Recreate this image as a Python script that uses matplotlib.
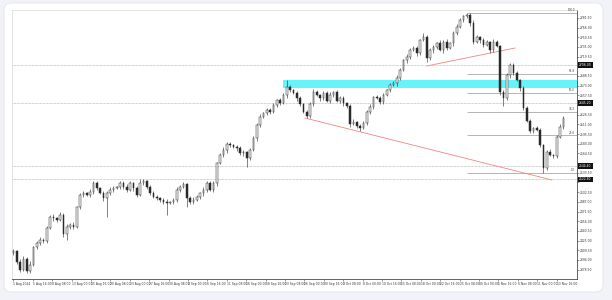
import numpy as np
import matplotlib.pyplot as plt
import matplotlib.transforms as mtransforms
from matplotlib.patches import FancyBboxPatch, Rectangle

W, H = 612, 300

# XAUUSD H4, closes (one entry per drawn candle)
first_open = 2405.0
closes = [
    2408.4, 2390.8, 2378.0, 2395.6, 2376.4, 2386.0, 2414.8, 2421.2, 2426.0, 2424.5,
    2445.2, 2462.8, 2461.2, 2458.0, 2466.0, 2435.6, 2446.8, 2450.0, 2446.8, 2478.8,
    2498.0, 2501.2, 2498.0, 2502.8, 2517.2, 2509.2, 2501.2, 2493.2, 2501.2, 2506.0,
    2509.2, 2510.8, 2517.2, 2510.8, 2506.0, 2517.2, 2509.2, 2498.0, 2517.2, 2520.4,
    2510.8, 2501.2, 2494.8, 2493.2, 2490.0, 2486.8, 2485.2, 2486.8, 2490.0, 2506.0,
    2510.8, 2515.6, 2493.2, 2486.8, 2490.0, 2494.8, 2501.2, 2506.0, 2517.2, 2506.0,
    2517.2, 2549.2, 2562.0, 2570.0, 2579.6, 2578.0, 2574.8, 2573.2, 2565.2, 2566.8,
    2557.2, 2570.0, 2589.2, 2610.0, 2622.8, 2629.2, 2634.0, 2630.8, 2642.0, 2650.0,
    2645.2, 2658.0, 2670.8, 2666.0, 2661.2, 2653.2, 2643.6, 2630.8, 2624.4, 2643.6,
    2662.8, 2658.0, 2653.2, 2661.2, 2648.4, 2658.0, 2662.8, 2648.4, 2653.2, 2645.2,
    2640.4, 2611.6, 2614.8, 2608.4, 2605.2, 2613.2, 2630.8, 2638.8, 2654.8, 2653.2,
    2646.8, 2658.0, 2666.0, 2674.0, 2677.2, 2685.2, 2698.0, 2714.0, 2718.8, 2730.0,
    2733.2, 2725.2, 2746.0, 2750.8, 2717.2, 2730.0, 2734.8, 2741.2, 2730.0, 2742.8,
    2733.2, 2741.2, 2757.2, 2766.8, 2778.0, 2784.4, 2786.0, 2773.2, 2742.8, 2750.8,
    2746.0, 2738.0, 2742.8, 2730.0, 2742.8, 2736.4, 2662.8, 2653.2, 2690.0, 2706.0,
    2693.2, 2682.0, 2669.2, 2637.2, 2616.4, 2600.4, 2605.2, 2602.0, 2578.0, 2541.2,
    2566.8, 2562.0, 2560.4, 2590.8, 2606.8, 2621.2,
]
# shadow lengths above / below the body, in dollars
wick_up = [
    3, 2, 4, 5, 3, 6, 2, 3, 4, 3,
    4, 3, 5, 2, 4, 3, 5, 3, 4, 2,
    3, 4, 2, 5, 4, 3, 2, 4, 3, 5,
    3, 2, 4, 3, 5, 4, 2, 3, 6, 3,
    2, 3, 4, 3, 2, 3, 4, 2, 3, 5,
    3, 4, 2, 3, 4, 3, 2, 5, 3, 4,
    3, 2, 4, 5, 3, 4, 2, 3, 4, 3,
    2, 3, 4, 3, 5, 2, 3, 4, 3, 2,
    4, 3, 11, 3, 2, 4, 3, 2, 3, 4,
    5, 3, 2, 4, 3, 5, 2, 3, 4, 3,
    2, 3, 4, 2, 3, 4, 3, 5, 2, 3,
    4, 3, 2, 4, 3, 5, 3, 2, 4, 3,
    3, 4, 2, 6, 3, 4, 3, 2, 5, 3,
    4, 2, 3, 4, 3, 2, 4, 3, 5, 3,
    2, 4, 3, 2, 4, 3, 2, 3, 4, 3,
    4, 3, 2, 3, 4, 3, 2, 4, 3, 2,
    3, 4, 2, 3, 4, 3,
]
wick_dn = [
    3, 4, 3, 2, 3, 4, 2, 3, 3, 4,
    3, 2, 4, 3, 2, 4, 10, 3, 4, 2,
    3, 4, 2, 3, 4, 3, 2, 4, 30, 3,
    4, 2, 3, 4, 3, 2, 4, 3, 2, 3,
    4, 3, 2, 3, 4, 3, 19, 2, 3, 4,
    3, 2, 14, 3, 4, 2, 3, 4, 3, 2,
    3, 4, 2, 3, 4, 3, 2, 4, 3, 4,
    14, 3, 2, 4, 3, 2, 3, 4, 2, 3,
    3, 2, 4, 3, 2, 4, 3, 2, 3, 4,
    3, 2, 4, 3, 2, 4, 3, 2, 3, 4,
    3, 4, 2, 3, 5, 2, 3, 4, 3, 2,
    3, 4, 2, 3, 2, 4, 3, 2, 4, 3,
    2, 4, 3, 2, 6, 3, 4, 3, 2, 4,
    3, 2, 4, 3, 2, 3, 4, 5, 3, 2,
    4, 3, 2, 4, 3, 2, 5, 13, 3, 4,
    3, 2, 4, 3, 2, 4, 3, 2, 3, 8,
    3, 2, 4, 3, 2, 3,
]

price_ticks = [
    2378.50, 2394.00, 2409.50, 2425.00, 2440.50, 2456.00, 2471.50, 2487.00, 2502.50,
    2518.00, 2533.50, 2549.00, 2564.50, 2580.00, 2595.50, 2611.00, 2626.50, 2642.00,
    2657.50, 2673.00, 2688.50, 2704.00, 2719.50, 2735.00, 2750.50, 2766.00, 2781.50,
]
time_labels = [
    "1 Aug 2024", "5 Aug 16:00", "8 Aug 08:00", "13 Aug 00:00", "15 Aug 16:00",
    "20 Aug 08:00", "23 Aug 00:00", "27 Aug 16:00", "30 Aug 08:00", "4 Sep 00:00",
    "6 Sep 16:00", "11 Sep 08:00", "16 Sep 00:00", "18 Sep 16:00", "23 Sep 08:00",
    "26 Sep 00:00", "30 Sep 16:00", "3 Oct 08:00", "8 Oct 00:00", "10 Oct 16:00",
    "15 Oct 08:00", "18 Oct 00:00", "22 Oct 16:00", "25 Oct 08:00", "30 Oct 00:00",
    "1 Nov 16:00", "6 Nov 08:00", "11 Nov 00:00", "13 Nov 16:00",
]
label_every = 5.82  # candles between time labels

# user objects on the chart
hline_levels = [2706.0, 2645.2, 2544.4, 2522.8]
fib_ratios = [100.0, 61.8, 50.0, 38.2, 23.6, 0.0]
fib_from_bar = 136
zone_from_bar = 81
zone_prices = [2668.8, 2682.0]
upper_trend_bars = [124, 150.5]
upper_trend_prices = [2704.4, 2733.2]
lower_trend_bars = [87.5, 161.6]
lower_trend_prices = [2621.2, 2522.0]

# ---------------------------------------------------------------------------
closes = np.array(closes)
opens = np.concatenate([[first_open], closes[:-1]])
tops = np.maximum(opens, closes)
bots = np.minimum(opens, closes)
highs = tops + np.array(wick_up)
lows = bots - np.array(wick_dn)
x = np.arange(len(closes))

fig = plt.figure(figsize=(W / 100, H / 100), dpi=100, facecolor="#f1f3f8")
card = FancyBboxPatch((4 / W, 1 - 292 / H), 599 / W, 289 / H,
                      boxstyle="round,pad=0,rounding_size=0.012",
                      mutation_aspect=W / H, transform=fig.transFigure,
                      fc="white", ec="#e1e4eb", lw=0.6, zorder=-10)
fig.patches.append(card)

ax = fig.add_axes([12 / W, 1 - 279 / H, 565 / W, 269 / H])
ax.set_zorder(5)
ax.set_facecolor("white")
x_right = 169.1
ax.set_xlim(-0.4, x_right)
ax.set_ylim(2363.6, 2794.0)

# demand zone
ax.add_patch(Rectangle((zone_from_bar, zone_prices[0]), x_right - zone_from_bar,
                       zone_prices[1] - zone_prices[0], fc="#66f4fa", ec="none", zorder=1))

# dotted horizontal levels
for lvl in hline_levels:
    ax.axhline(lvl, color="#a3a3a3", lw=0.5, ls=(0, (1, 1)), zorder=2)

# fibonacci retracement from the top to the Nov low
fib_hi = highs[fib_from_bar]
fib_lo = lows[fib_from_bar:].min()
for r in fib_ratios:
    lvl = fib_lo + (fib_hi - fib_lo) * r / 100
    ax.hlines(lvl, fib_from_bar, x_right, color="#a9a9a9", lw=0.6, zorder=2)
    ax.text(x_right - 0.6, lvl + 0.8, f"{r:.1f}", ha="right", va="bottom",
            fontsize=2.0, color="#444444", zorder=6)

# trend lines
ax.plot(upper_trend_bars, upper_trend_prices, color="#f08585", lw=0.6, zorder=3)
ax.plot(lower_trend_bars, lower_trend_prices, color="#f08585", lw=0.6, zorder=3)

# candles
ax.vlines(x, lows, highs, color="#3a3a3a", lw=0.45, zorder=4)
bull = closes >= opens
body = np.maximum(tops - bots, 0.8)
ax.bar(x[bull], body[bull], bottom=bots[bull], width=0.5, color="#f4f4f4",
       edgecolor="#2a2a2a", lw=0.35, zorder=5)
ax.bar(x[~bull], body[~bull], bottom=bots[~bull], width=0.5, color="#2a2a2a",
       edgecolor="#2a2a2a", lw=0.35, zorder=5)

# axes cosmetics
for side in ("left", "top"):
    ax.spines[side].set_color("#d8d8d8")
    ax.spines[side].set_linewidth(0.5)
for side in ("right", "bottom"):
    ax.spines[side].set_color("#4a4a4a")
    ax.spines[side].set_linewidth(0.6)

# price labels hidden behind the black level boxes, as on the terminal
shown = ["" if min(abs(p - l) for l in hline_levels) < 7 else f"{p:.2f}"
         for p in price_ticks]
ax.yaxis.tick_right()
ax.set_yticks(price_ticks)
ax.set_yticklabels(shown)
ax.set_xticks([k * label_every for k in range(len(time_labels))])
ax.set_xticklabels(time_labels, ha="left")
ax.tick_params(axis="both", length=1.5, width=0.4, labelsize=2.2, pad=0.8,
               colors="#4a4a4a", labelcolor="#333333")

blend = mtransforms.blended_transform_factory(ax.transAxes, ax.transData)
for lvl in hline_levels:
    ax.text(1.004, lvl, f"{lvl:.2f}", transform=blend, fontsize=2.2, color="white",
            va="center", ha="left", clip_on=False, zorder=7,
            bbox=dict(boxstyle="square,pad=0.3", fc="#111111", ec="none"))

# chart caption with the two small icons
fig.patches.append(Rectangle((13 / W, 1 - 15 / H), 4 / W, 4 / H, transform=fig.transFigure,
                             fc="#8fb1dc", ec="#6b8fbf", lw=0.3))
fig.patches.append(Rectangle((18.5 / W, 1 - 15 / H), 5 / W, 4 / H, transform=fig.transFigure,
                             fc="#eaa7b0", ec="#c9808a", lw=0.3))
fig.text(25 / W, 1 - 13 / H, "XAUUSD,H4:  Gold vs US Dollar", fontsize=2.2,
         va="center", ha="left", color="#333333")

fig.savefig("out.png", dpi=100, facecolor=fig.get_facecolor())
